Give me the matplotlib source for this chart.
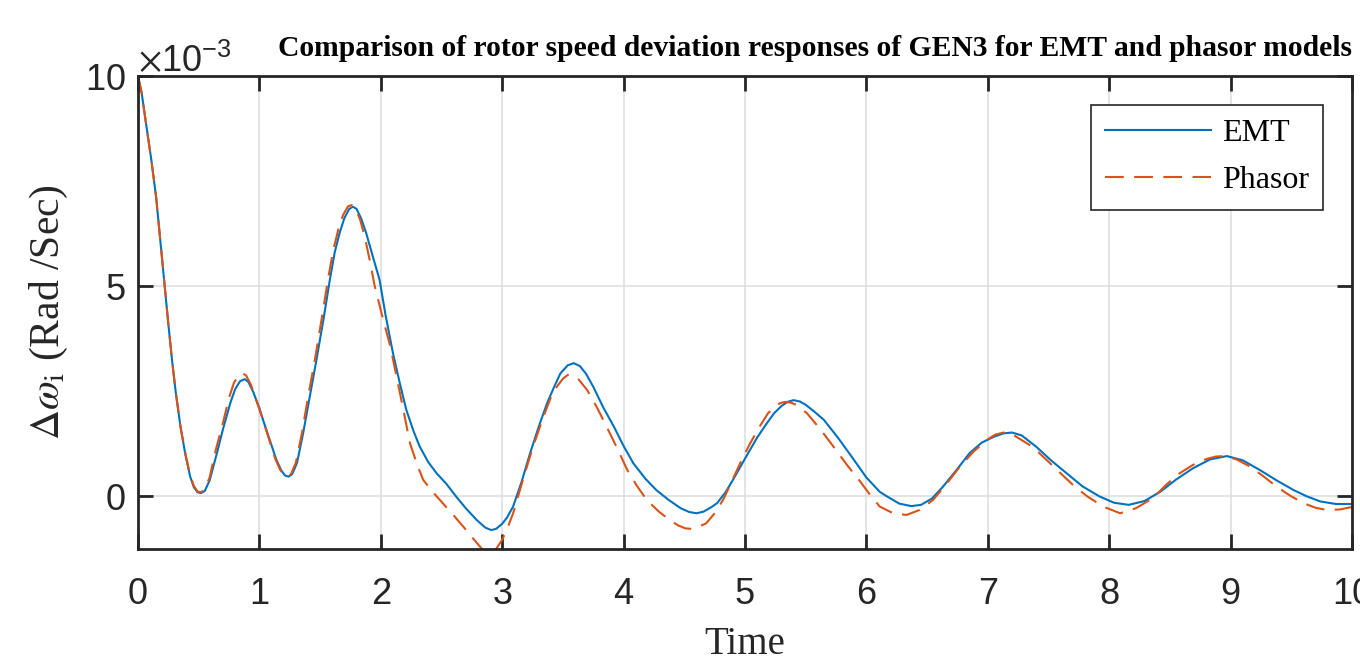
import matplotlib
matplotlib.use("Agg")
import matplotlib.pyplot as plt
import numpy as np

# rotor speed deviation of GEN3, values read in units of 1e-3 rad/s
t_emt = [0.00, 0.03, 0.07, 0.11, 0.15, 0.19, 0.22, 0.25, 0.28, 0.31, 0.35, 0.39,
         0.43, 0.46, 0.49, 0.52, 0.55, 0.59, 0.65, 0.70, 0.76, 0.80, 0.84, 0.88,
         0.91, 0.95, 1.00, 1.03, 1.09, 1.14, 1.18, 1.21, 1.24, 1.27, 1.31, 1.36,
         1.41, 1.47, 1.53, 1.58, 1.62, 1.66, 1.70, 1.74, 1.77, 1.80, 1.84, 1.88,
         1.93, 1.99, 2.04, 2.10, 2.16, 2.21, 2.27, 2.32, 2.39, 2.46, 2.54, 2.62,
         2.70, 2.79, 2.86, 2.91, 2.95, 3.00, 3.04, 3.09, 3.16, 3.23, 3.30, 3.37,
         3.43, 3.48, 3.54, 3.59, 3.64, 3.69, 3.75, 3.83, 3.92, 4.00, 4.08, 4.18,
         4.27, 4.37, 4.47, 4.54, 4.60, 4.66, 4.72, 4.77, 4.84, 4.90, 5.01, 5.10,
         5.18, 5.24, 5.30, 5.35, 5.40, 5.45, 5.50, 5.57, 5.65, 5.77, 5.89, 6.00,
         6.11, 6.17, 6.27, 6.37, 6.45, 6.54, 6.63, 6.74, 6.85, 6.95, 7.05, 7.13,
         7.20, 7.28, 7.40, 7.52, 7.65, 7.78, 7.92, 8.04, 8.16, 8.29, 8.42, 8.55,
         8.69, 8.83, 8.97, 9.10, 9.24, 9.38, 9.52, 9.63, 9.74, 9.87, 10.00]
v_emt = [10.00, 9.60, 8.79, 8.00, 7.10, 5.90, 4.99, 4.10, 3.25, 2.50, 1.66, 1.00,
         0.47, 0.22, 0.10, 0.08, 0.13, 0.38, 1.03, 1.60, 2.22, 2.55, 2.74, 2.79,
         2.72, 2.48, 2.10, 1.82, 1.30, 0.87, 0.62, 0.50, 0.47, 0.53, 0.80, 1.50,
         2.30, 3.25, 4.25, 5.15, 5.80, 6.26, 6.62, 6.84, 6.89, 6.84, 6.60, 6.26,
         5.75, 5.15, 4.30, 3.41, 2.65, 2.06, 1.55, 1.19, 0.82, 0.55, 0.30, 0.00,
         -0.28, -0.56, -0.74, -0.80, -0.77, -0.65, -0.50, -0.24, 0.35, 1.03, 1.65, 2.22,
         2.62, 2.93, 3.12, 3.17, 3.10, 2.92, 2.61, 2.13, 1.66, 1.20, 0.79, 0.42,
         0.15, -0.08, -0.28, -0.37, -0.40, -0.36, -0.26, -0.16, 0.10, 0.39, 0.95, 1.40,
         1.74, 1.98, 2.15, 2.25, 2.29, 2.26, 2.18, 2.02, 1.82, 1.38, 0.90, 0.45,
         0.11, 0.00, -0.17, -0.23, -0.20, -0.05, 0.23, 0.62, 1.03, 1.28, 1.42, 1.50,
         1.52, 1.45, 1.18, 0.86, 0.55, 0.24, 0.00, -0.15, -0.20, -0.11, 0.11, 0.40,
         0.67, 0.88, 0.96, 0.86, 0.63, 0.38, 0.15, 0.00, -0.12, -0.18, -0.18]

t_pha = [0.00, 0.03, 0.07, 0.11, 0.15, 0.19, 0.22, 0.25, 0.28, 0.31, 0.35, 0.39,
         0.43, 0.46, 0.49, 0.52, 0.55, 0.59, 0.64, 0.70, 0.75, 0.79, 0.83, 0.86,
         0.89, 0.93, 0.97, 1.02, 1.08, 1.13, 1.17, 1.20, 1.23, 1.26, 1.30, 1.35,
         1.40, 1.46, 1.52, 1.57, 1.61, 1.65, 1.69, 1.73, 1.76, 1.79, 1.83, 1.87,
         1.91, 1.95, 2.02, 2.08, 2.13, 2.19, 2.24, 2.30, 2.35, 2.43, 2.51, 2.60,
         2.68, 2.76, 2.84, 2.90, 2.95, 3.00, 3.05, 3.09, 3.17, 3.25, 3.34, 3.40,
         3.45, 3.50, 3.54, 3.58, 3.63, 3.70, 3.78, 3.86, 3.95, 4.03, 4.11, 4.19,
         4.29, 4.38, 4.45, 4.51, 4.56, 4.60, 4.68, 4.75, 4.82, 4.89, 4.96, 5.04,
         5.12, 5.19, 5.25, 5.29, 5.33, 5.38, 5.42, 5.51, 5.62, 5.73, 5.84, 5.95,
         6.03, 6.11, 6.22, 6.33, 6.44, 6.55, 6.66, 6.77, 6.88, 6.99, 7.06, 7.13,
         7.20, 7.37, 7.48, 7.60, 7.71, 7.82, 7.95, 8.09, 8.22, 8.36, 8.47, 8.58,
         8.69, 8.80, 8.88, 8.95, 9.05, 9.16, 9.27, 9.38, 9.49, 9.60, 9.70, 9.79,
         9.90, 10.00]
v_pha = [10.00, 9.60, 8.79, 8.00, 7.10, 5.90, 4.99, 4.10, 3.25, 2.50, 1.66, 1.02,
         0.50, 0.25, 0.12, 0.10, 0.17, 0.45, 1.10, 1.75, 2.35, 2.70, 2.89, 2.93,
         2.88, 2.66, 2.32, 1.90, 1.35, 0.90, 0.64, 0.51, 0.47, 0.53, 0.80, 1.50,
         2.35, 3.30, 4.35, 5.25, 5.88, 6.35, 6.70, 6.90, 6.93, 6.86, 6.58, 6.15,
         5.60, 5.00, 4.20, 3.55, 2.85, 2.00, 1.27, 0.75, 0.39, 0.10, -0.16, -0.45,
         -0.72, -1.00, -1.27, -1.36, -1.25, -1.03, -0.70, -0.40, 0.39, 1.15, 1.90, 2.35,
         2.61, 2.80, 2.89, 2.88, 2.78, 2.53, 2.12, 1.66, 1.13, 0.63, 0.25, -0.08,
         -0.36, -0.56, -0.69, -0.76, -0.77, -0.74, -0.64, -0.40, -0.08, 0.35, 0.79, 1.25,
         1.66, 1.98, 2.15, 2.22, 2.25, 2.23, 2.18, 1.98, 1.60, 1.18, 0.75, 0.35,
         0.04, -0.24, -0.40, -0.44, -0.32, -0.08, 0.30, 0.71, 1.06, 1.34, 1.47, 1.52,
         1.48, 1.18, 0.88, 0.55, 0.25, 0.00, -0.24, -0.40, -0.28, -0.04, 0.28, 0.55,
         0.75, 0.89, 0.95, 0.96, 0.88, 0.71, 0.48, 0.23, 0.02, -0.16, -0.27, -0.32,
         -0.31, -0.25]

x_ticks = list(range(0, 11))
y_ticks = [0, 5e-3, 10e-3]

plt.rcParams['font.family'] = ['Liberation Sans', 'DejaVu Sans']
plt.rcParams['mathtext.fontset'] = 'stix'
serif = ['Liberation Serif', 'DejaVu Serif']

fig = plt.figure(figsize=(13.6, 6.64), dpi=100)
ax = fig.add_axes([138 / 1360, 1 - 549 / 664, 1214 / 1360, 473 / 664])

ax.plot(t_emt, np.array(v_emt) * 1e-3, color='#0072BD', lw=1.5,
        solid_joinstyle='round', label='EMT')
ax.plot(t_pha, np.array(v_pha) * 1e-3, color='#D95319', lw=1.5,
        dashes=(9, 5), dash_joinstyle='round', label='Phasor')

ax.set_xlim(0, 10)
ax.set_ylim(-1.25e-3, 10e-3)
ax.set_xticks(x_ticks)
ax.set_yticks(y_ticks)
ax.ticklabel_format(axis='y', style='sci', scilimits=(-3, -3), useMathText=True)
ax.yaxis.get_offset_text().set_fontsize(26)

ax.grid(True, color='#dcdcdc', lw=1.1)
ax.set_axisbelow(True)
for s in ax.spines.values():
    s.set_linewidth(2.0)
    s.set_color('#262626')
ax.tick_params(direction='in', length=11, width=2, color='#262626',
               labelsize=26, labelcolor='#262626', top=True, right=True)
ax.tick_params(axis='x', pad=20)
ax.tick_params(axis='y', pad=9)

ax.set_xlabel('Time', family=serif, fontsize=28, labelpad=10, color='#262626')
ax.set_ylabel(r'$\Delta\omega_{\rm i}$ (Rad /Sec)', family=serif, fontsize=30,
              labelpad=11, color='#262626')

fig.text(278 / 1360, 1 - 56 / 664,
         'Comparison of rotor speed deviation responses of GEN3 for EMT and phasor models',
         family=serif, fontweight='bold', fontsize=21.3, ha='left', va='baseline')

leg = ax.legend(loc='upper right', prop={'family': serif, 'size': 23},
                fancybox=False, framealpha=1, edgecolor='#262626',
                handlelength=3.3, handletextpad=0.35, borderpad=0.45,
                labelspacing=0.55, borderaxespad=0.9)
leg.get_frame().set_linewidth(1.2)

fig.savefig('out.png', dpi=100)
